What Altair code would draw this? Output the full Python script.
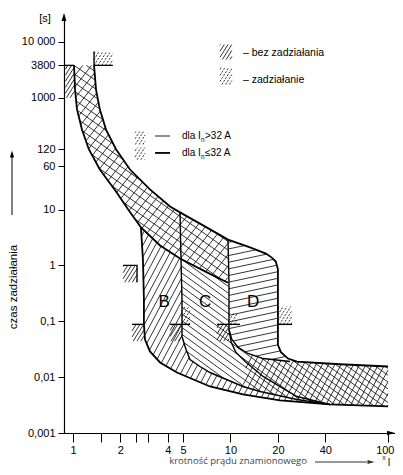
import numpy as np
import pandas as pd
import altair as alt

# ---------------- values (multiples of In, seconds) ----------------
# thermal band: upper (tripping) limit, running on as the top of region D
tu_x = [1.36, 1.40, 1.48, 1.62, 1.875, 2.30, 3.08, 4.13, 4.78, 6.40, 9.64, 13.3, 16.8, 18.3, 19.4, 20.0]
tu_t = [3800, 1400, 620, 270, 120, 52, 23, 11.3, 8.9, 5.6, 2.9, 2.1, 1.63, 1.38, 1.17, 0.85]
# 20 In limit of D and upper limit of the short-time band
du_x = [20.0, 20.0, 20.9, 23.2, 26.4, 49.6, 100]
du_t = [0.85, 0.038, 0.028, 0.0215, 0.019, 0.017, 0.0155]
# thermal band: lower (non-tripping) limit
tl_x = [1.015, 1.03, 1.06, 1.14, 1.26, 1.48, 1.875, 2.24, 2.70, 3.57, 4.78, 7.09, 9.64]
tl_t = [3800, 1400, 620, 270, 120, 52, 21, 10, 4.8, 2.27, 1.33, 0.75, 0.49]
# 3 In limit of B and lowest limit of the short-time band
bn_x = [2.70, 2.78, 2.82, 2.82, 2.865, 3.08, 3.57, 4.57, 7.41, 12.0, 20.6, 42.8, 100]
bn_t = [4.8, 1.27, 0.245, 0.0875, 0.047, 0.0288, 0.0183, 0.0121, 0.0068, 0.00489, 0.00382, 0.00324, 0.003]
# 5 In limit (B tripping / C non-tripping)
f_x = [4.78, 4.85, 4.92, 4.92, 5.22, 5.53, 6.40, 7.41, 12.0, 15.4, 26.4, 42.8]
f_t = [8.9, 1.33, 0.245, 0.0533, 0.0313, 0.0207, 0.0155, 0.0121, 0.0068, 0.00553, 0.00398, 0.00324]
# 10 In limit (C tripping / D non-tripping), D non-tripping branch
dn_x = [9.64, 9.78, 9.78, 10.1, 10.8, 12.4, 16.1, 26.4, 42.8]
dn_t = [2.9, 0.49, 0.0713, 0.042, 0.028, 0.0191, 0.0103, 0.0045, 0.00324]
# C tripping branch below the 10 In limit
ct_x = [9.78, 10.2, 11.2, 12.9, 16.1, 23.9]
ct_t = [0.0713, 0.0472, 0.034, 0.0265, 0.0215, 0.0191]

# small test-point markers and legend swatches: x0, x1, t0, t1, kind
mk_x0 = [0.895, 1.36, 2.08, 2.37, 4.13, 4.92, 8.21, 9.78, 20.0, 8.58, 8.58, 2.48, 2.48]
mk_x1 = [1.015, 1.79, 2.55, 2.82, 4.92, 5.53, 9.78, 11.0, 24.6, 10.2, 10.2, 2.865, 2.865]
mk_t0 = [1000, 3800, 0.5, 0.044, 0.044, 0.088, 0.044, 0.088, 0.088, 4840, 1730, 146, 78]
mk_t1 = [3800, 6730, 1.0, 0.088, 0.088, 0.184, 0.088, 0.144, 0.184, 9000, 3480, 249, 129]
mk_kind = ["bez", "zad", "bez", "bez", "bez", "zad", "bez", "zad", "zad", "bez", "zad", "zad", "zad"]
# marker edge lines
edge_lines = [
    [(0.877, 3800), (1.015, 3800)],
    [(1.36, 6730), (1.36, 3800), (1.79, 3800)],
    [(2.08, 1.0), (2.55, 1.0), (2.55, 0.5)],
    [(2.37, 0.088), (2.82, 0.088)],
    [(4.13, 0.088), (5.53, 0.088)],
    [(8.21, 0.088), (11.5, 0.088)],
    [(20.0, 0.088), (24.6, 0.088)],
]

y_ticks = [0.001, 0.01, 0.1, 1, 10, 60, 120, 1000, 3800, 10000]
y_labels = ["0,001", "0,01", "0,1", "1", "10", "60", "120", "1000", "3800", "10 000"]
x_ticks = [1, 1.5, 2, 2.5, 3, 4, 5, 10, 20, 40, 100]
x_labeled = [1, 2, 4, 5, 10, 20, 40, 100]

# ---------------- geometry helpers ----------------
KU, KV = 157.5, 55.87  # visual px per decade, used only to orient the hatching


def pts(xs, ts):
    return list(zip(xs, ts))


def hatch(poly, ang, sp):
    P = np.array([[KU * np.log10(x), KV * np.log10(t)] for x, t in poly])
    th = np.radians(ang)
    d = np.array([np.cos(th), np.sin(th)])
    n = np.array([-np.sin(th), np.cos(th)])
    pr = P @ n
    segs = []
    c = np.floor(pr.min() / sp) * sp + sp * 0.5
    while c < pr.max():
        hits = []
        for i in range(len(P)):
            a, b = P[i], P[(i + 1) % len(P)]
            fa, fb = a @ n - c, b @ n - c
            if (fa < 0) != (fb < 0):
                hits.append(a + fa / (fa - fb) * (b - a))
        hits.sort(key=lambda q: q @ d)
        for k in range(0, len(hits) - 1, 2):
            segs.append((hits[k], hits[k + 1]))
        c += sp
    return segs


TU, DU, TL, BN = pts(tu_x, tu_t), pts(du_x, du_t), pts(tl_x, tl_t), pts(bn_x, bn_t)
F, DN, CT = pts(f_x, f_t), pts(dn_x, dn_t), pts(ct_x, ct_t)

poly_thermal = TU[:11] + TL[::-1]
poly_B = TL[8:11] + F[1:] + BN[10::-1]
poly_C = TL[10:] + [DN[2]] + CT[1:] + DU[4:] + [BN[-1], BN[-2]] + F[10:0:-1]
poly_L = CT[3:] + DU[4:] + [BN[-1], BN[-2]] + F[10:7:-1]
poly_D = TU[10:] + DU[1:5] + CT[::-1] + [DN[1]]

regions = [
    (poly_thermal, 52, 7), (poly_thermal, -35, 7),
    (poly_B, 62, 5.5), (poly_L, 62, 5.5),
    (poly_C, -36, 5.5),
    (poly_D, 12, 6.5),
]

rows, sid = [], 0
for poly, ang, sp in regions:
    for a, b in hatch(poly, ang, sp):
        for k, q in enumerate((a, b)):
            rows.append({"x": 10 ** (q[0] / KU), "t": 10 ** (q[1] / KV), "seg": sid, "k": k, "kind": "main"})
        sid += 1
for x0, x1, t0, t1, kind in zip(mk_x0, mk_x1, mk_t0, mk_t1, mk_kind):
    poly = [(x0, t0), (x1, t0), (x1, t1), (x0, t1)]
    for a, b in hatch(poly, 58, 3.2):
        for k, q in enumerate((a, b)):
            rows.append({"x": 10 ** (q[0] / KU), "t": 10 ** (q[1] / KV), "seg": sid, "k": k, "kind": kind})
        sid += 1
hdf = pd.DataFrame(rows)

curves = {"tu": (TU + DU[1:], "thick"), "tl": (TL, "thick"), "bn": (BN, "thick"),
          "f": (F, "mid"), "dn": (DN, "mid"), "ct": (CT, "mid")}
crow = []
for name, (pl, w) in curves.items():
    for i, (x, t) in enumerate(pl):
        crow.append({"x": x, "t": t, "curve": name, "i": i, "w": w})
for j, pl in enumerate(edge_lines):
    for i, (x, t) in enumerate(pl):
        crow.append({"x": x, "t": t, "curve": f"e{j}", "i": i, "w": "mid"})
# legend sample lines
for i, x in enumerate([3.32, 4.13]):
    crow.append({"x": x, "t": 207, "curve": "lg_thin", "i": i, "w": "thin"})
    crow.append({"x": x, "t": 103, "curve": "lg_thick", "i": i, "w": "thick"})
cdf = pd.DataFrame(crow)

# ---------------- scales & axes ----------------
xs = alt.Scale(type="log", domain=[0.8766, 110.8], nice=False, zero=False)
ys = alt.Scale(type="log", domain=[0.001, 30320], nice=False, zero=False)

yexpr = "''"
for v, lab in reversed(list(zip(y_ticks, y_labels))):
    yexpr = f"datum.value == {v} ? '{lab}' : ({yexpr})"
xexpr = f"indexof({x_labeled}, datum.value) >= 0 ? toString(datum.value) : ''"

FONT = "Liberation Sans"
x_axis = alt.Axis(values=x_ticks, labelExpr=xexpr, tickSize=9, labelPadding=2, labelFontSize=11,
                  labelFont=FONT, labelColor="black", domainColor="black", tickColor="black",
                  domainWidth=1.2, tickWidth=1, grid=False, title=None, labelFlush=False,
                  labelOverlap=False,
                  labelAlign={"condition": {"test": "datum.value == 100", "value": "right"}, "value": "center"},
                  labelOffset={"condition": {"test": "datum.value == 100", "value": 6}, "value": 0})
y_axis = alt.Axis(values=y_ticks, labelExpr=yexpr, tickSize=6, labelPadding=3, labelFontSize=11,
                  labelFont=FONT, labelColor="black", domainColor="black", tickColor="black",
                  domainWidth=1.2, tickWidth=1, grid=False, title=None, labelFlush=False,
                  labelOverlap=False)

X = alt.X("x:Q", scale=xs, axis=x_axis)
Y = alt.Y("t:Q", scale=ys, axis=y_axis)

layers = []
base_c = alt.Chart(cdf)
base_h = alt.Chart(hdf)
layers.append(base_h.transform_filter("datum.kind == 'main'").mark_line(color="#111", strokeWidth=0.85).encode(
    x=X, y=Y, detail="seg:N", order="k:Q"))
layers.append(base_h.transform_filter("datum.kind == 'bez'").mark_line(color="#111", strokeWidth=0.85).encode(
    x=X, y=Y, detail="seg:N", order="k:Q"))
layers.append(base_h.transform_filter("datum.kind == 'zad'").mark_line(color="#111", strokeWidth=0.85,
                                                                        strokeDash=[2, 1.3]).encode(
    x=X, y=Y, detail="seg:N", order="k:Q"))
layers.append(base_c.transform_filter("datum.w == 'thick'").mark_line(color="black", strokeWidth=1.8).encode(
    x=X, y=Y, detail="curve:N", order="i:Q"))
layers.append(base_c.transform_filter("datum.w == 'mid'").mark_line(color="black", strokeWidth=1.4).encode(
    x=X, y=Y, detail="curve:N", order="i:Q"))
layers.append(base_c.transform_filter("datum.w == 'thin'").mark_line(color="black", strokeWidth=0.9).encode(
    x=X, y=Y, detail="curve:N", order="i:Q"))

# region letters
letters = pd.DataFrame({"x": [3.79, 6.89, 13.9], "t": [0.22, 0.22, 0.22], "s": ["B", "C", "D"]})
layers.append(alt.Chart(letters).mark_text(font=FONT, fontSize=17, color="black").encode(
    x=X, y=Y, text="s:N"))

# legend texts
leg1 = pd.DataFrame({"x": [12.0, 12.0], "t": [6300, 2080], "s": ["– bez zadziałania", "– zadziałanie"]})
layers.append(alt.Chart(leg1).mark_text(font=FONT, fontSize=10.5, color="black", align="left").encode(
    x=X, y=Y, text="s:N"))
leg2 = pd.DataFrame({"x": [4.92, 4.92], "t": [207, 103], "a": ["dla I", "dla I"], "b": ["n", "n"],
                     "c": [">32 A", "≤32 A"]})
layers.append(alt.Chart(leg2).mark_text(font=FONT, fontSize=10, color="black", align="left").encode(
    x=X, y=Y, text="a:N"))
layers.append(alt.Chart(leg2).mark_text(font=FONT, fontSize=6.5, color="black", align="left", dx=19, dy=4).encode(
    x=X, y=Y, text="b:N"))
layers.append(alt.Chart(leg2).mark_text(font=FONT, fontSize=10, color="black", align="left", dx=23).encode(
    x=X, y=Y, text="c:N"))

# axis decorations (arrows, titles)
one = pd.DataFrame({"a": [0]})
tri_up = "M0,-1L0.6,1L-0.6,1Z"
tri_right = "M1,0L-1,-0.55L-1,0.55Z"
layers.append(alt.Chart(one).mark_point(shape=tri_up, size=64, filled=True, opacity=1, color="black").encode(
    x=alt.value(0), y=alt.value(2)))
layers.append(alt.Chart(one).mark_point(shape=tri_right, size=64, filled=True, opacity=1, color="black").encode(
    x=alt.value(327), y=alt.value(418)))
layers.append(alt.Chart(one).mark_rule(color="black", strokeWidth=1).encode(
    x=alt.value(-52), y=alt.value(140), y2=alt.value(200)))
layers.append(alt.Chart(one).mark_point(shape=tri_up, size=49, filled=True, opacity=1, color="black").encode(
    x=alt.value(-52), y=alt.value(139)))
layers.append(alt.Chart(one).mark_text(text="[s]", font=FONT, fontSize=11, color="black").encode(
    x=alt.value(-19), y=alt.value(3.5)))
layers.append(alt.Chart(one).mark_text(text="czas zadziałania", font=FONT, fontSize=11.5, color="black",
                                       angle=270).encode(x=alt.value(-50), y=alt.value(272)))
layers.append(alt.Chart(one).mark_text(text="krotność prądu znamionowego", font="Open Sans", fontSize=9.5,
                                       color="#444").encode(x=alt.value(174), y=alt.value(446)))
layers.append(alt.Chart(one).mark_rule(color="#333", strokeWidth=1).encode(
    x=alt.value(251), x2=alt.value(303), y=alt.value(447)))
layers.append(alt.Chart(one).mark_point(shape=tri_right, size=49, filled=True, opacity=1, color="#333").encode(
    x=alt.value(307), y=alt.value(447)))
layers.append(alt.Chart(one).mark_text(text="x", font=FONT, fontSize=7, color="#333").encode(
    x=alt.value(320), y=alt.value(443)))
layers.append(alt.Chart(one).mark_text(text="I", font=FONT, fontSize=11, color="#333").encode(
    x=alt.value(325), y=alt.value(448)))

chart = alt.layer(*layers).properties(
    width=331, height=418,
    autosize=alt.AutoSizeParams(type="none"),
    padding={"left": 56, "top": 7, "right": 0, "bottom": 34},
    background="white",
).configure_view(stroke=None)

chart.save("out.html", embed_options={"renderer": "svg", "actions": False})
